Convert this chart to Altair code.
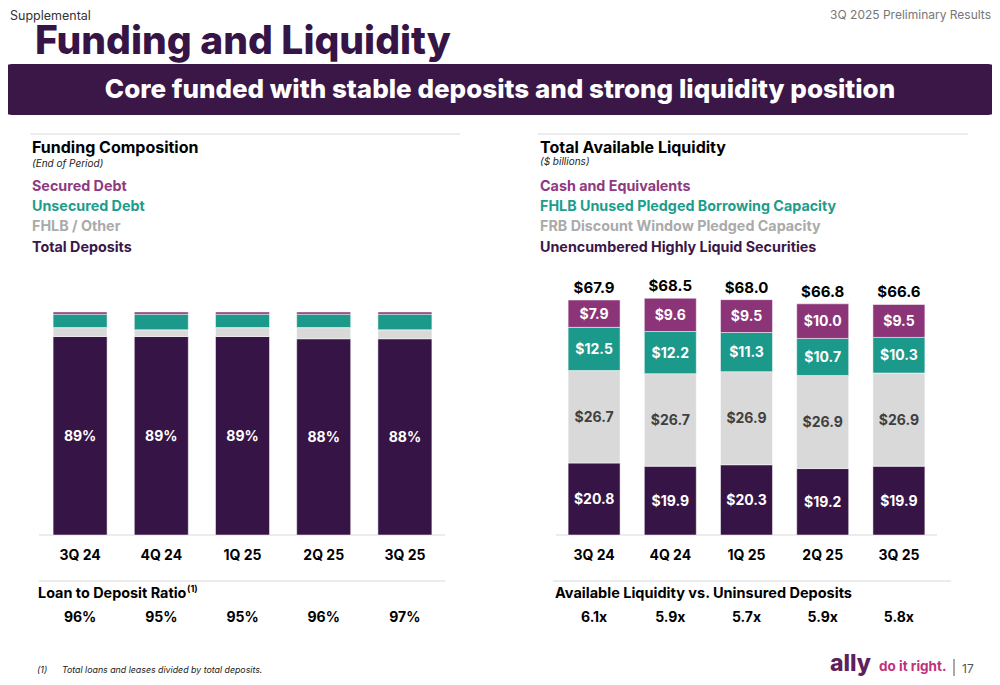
import altair as alt
import pandas as pd

quarters = ["3Q 24", "4Q 24", "1Q 25", "2Q 25", "3Q 25"]

# Funding composition, % of total funding (end of period)
fund_series = ["Total Deposits", "FHLB / Other", "Unsecured Debt", "Secured Debt"]
deposits = [89, 89, 89, 88, 88]
fhlb_other = [4, 3, 4, 5, 4]
unsecured = [6, 7, 6, 6, 7]
secured = [1, 1, 1, 1, 1]
loan_to_deposit = ["96%", "95%", "95%", "96%", "97%"]

# Total available liquidity ($ billions)
liq_series = ["Unencumbered Highly Liquid Securities", "FRB Discount Window Pledged Capacity",
              "FHLB Unused Pledged Borrowing Capacity", "Cash and Equivalents"]
securities = [20.8, 19.9, 20.3, 19.2, 19.9]
frb = [26.7, 26.7, 26.9, 26.9, 26.9]
fhlb_unused = [12.5, 12.2, 11.3, 10.7, 10.3]
cash = [7.9, 9.6, 9.5, 10.0, 9.5]
totals = [67.9, 68.5, 68.0, 66.8, 66.6]
liq_vs_uninsured = ["6.1x", "5.9x", "5.7x", "5.9x", "5.8x"]

DARK = "#371446"
PLUM = "#8C3478"
TEAL = "#1B998B"
GRAY = "#D9D9D9"
FONT = "Inter"
OFF = 8  # page margin


def stack(series_vals, names, fmt):
    rows = []
    for i, q in enumerate(quarters):
        base = 0.0
        for name, vals in zip(names, series_vals):
            v = vals[i]
            rows.append(dict(q=q, series=name, v0=base, v1=base + v, mid=base + v / 2,
                             lab=fmt(v), light=(name == "FRB Discount Window Pledged Capacity")))
            base += v
    return pd.DataFrame(rows)


fund_df = stack([deposits, fhlb_other, unsecured, secured], fund_series, lambda v: f"{v:.0f}%")
liq_df = stack([securities, frb, fhlb_unused, cash], liq_series, lambda v: f"${v:.1f}")
liq_tot = pd.DataFrame({"q": quarters, "tot": totals, "lab": [f"${t:.1f}" for t in totals],
                        "ratio": liq_vs_uninsured})
fund_tot = pd.DataFrame({"q": quarters, "ratio": loan_to_deposit})

color_scale = alt.Scale(domain=fund_series + liq_series,
                        range=[DARK, GRAY, TEAL, PLUM, DARK, GRAY, TEAL, PLUM])


def X(v):
    return v - OFF


def Y(v):
    return v - OFF


left_x = alt.Scale(domain=quarters, range=[X(39.5), X(445.5)], paddingInner=0.335, paddingOuter=0.1675)
left_y = alt.Scale(domain=[0, 100], range=[Y(535), Y(312)], nice=False, zero=True)
right_x = alt.Scale(domain=quarters, range=[X(556), X(937)], paddingInner=0.318, paddingOuter=0.159)
right_y = alt.Scale(domain=[0, 67.9], range=[Y(535), Y(300)], nice=False, zero=True)


def text(t, x, y, size, color="#000000", weight="bold", align="left", style="normal", font=FONT):
    return alt.Chart(alt.Data(values=[{}])).mark_text(
        text=t, align=align, baseline="alphabetic", fontSize=size, fontWeight=weight,
        color=color, font=font, fontStyle=style
    ).encode(x=alt.value(X(x)), y=alt.value(Y(y)))


def hline(x1, x2, y, color="#E6E6E6", w=1.5):
    return alt.Chart(alt.Data(values=[{}])).mark_rule(color=color, strokeWidth=w).encode(
        x=alt.value(X(x1)), x2=alt.value(X(x2)), y=alt.value(Y(y)))


layers = []

# header
layers.append(text("Supplemental", 10, 20, 12.5, color="#333333", weight="normal"))
layers.append(text("3Q 2025 Preliminary Results", 991, 19, 12, color="#777777", weight="normal", align="right"))
layers.append(text("Funding and Liquidity", 35, 54, 39, color=DARK, weight=800))
layers.append(alt.Chart(alt.Data(values=[{}])).mark_rect(color="#3B1748", cornerRadius=12).encode(
    x=alt.value(X(0)), x2=alt.value(X(1000)), y=alt.value(Y(64)), y2=alt.value(Y(115))))
layers.append(text("Core funded with stable deposits and strong liquidity position", 500, 98, 26,
                   color="#FFFFFF", weight=800, align="center"))

# separators
layers += [hline(30, 460, 134), hline(538, 968, 134), hline(39, 445, 581), hline(553, 951, 581),
           hline(39, 445, 535), hline(556, 937, 535)]

# left headings / legend
layers.append(text("Funding Composition", 32, 153, 16))
layers.append(text("(End of Period)", 32, 167, 10, color="#222222", weight="normal", style="italic"))
for lab, col, yy in zip(["Secured Debt", "Unsecured Debt", "FHLB / Other", "Total Deposits"],
                        ["#8E3A80", "#1E9C8C", "#AAAAAA", "#3B1748"], [191, 211, 231, 252]):
    layers.append(text(lab, 32, yy, 14.3, color=col))

# right headings / legend
layers.append(text("Total Available Liquidity", 540, 153, 16))
layers.append(text("($ billions)", 540, 165, 10, color="#222222", weight="normal", style="italic"))
for lab, col, yy in zip(["Cash and Equivalents", "FHLB Unused Pledged Borrowing Capacity",
                         "FRB Discount Window Pledged Capacity", "Unencumbered Highly Liquid Securities"],
                        ["#8E3A80", "#1E9C8C", "#AAAAAA", "#3B1748"], [191, 211, 231, 252]):
    layers.append(text(lab, 540, yy, 14.3, color=col))

# left bars
layers.append(alt.Chart(fund_df).mark_bar(stroke="white", strokeWidth=0.5).encode(
    x=alt.X("q:N", scale=left_x, axis=None),
    y=alt.Y("v0:Q", scale=left_y, axis=None), y2="v1:Q",
    color=alt.Color("series:N", scale=color_scale, legend=None)))
layers.append(alt.Chart(fund_df).transform_filter("datum.series == 'Total Deposits'").mark_text(
    baseline="middle", fontSize=14, fontWeight="bold", font=FONT, color="white", dy=1).encode(
    x=alt.X("q:N", scale=left_x, axis=None),
    y=alt.Y("mid:Q", scale=left_y, axis=None), text="lab:N"))
layers.append(alt.Chart(fund_tot).mark_text(baseline="alphabetic", fontSize=14, fontWeight="bold",
                                            font=FONT, color="black").encode(
    x=alt.X("q:N", scale=left_x, axis=None), y=alt.value(Y(560)), text="q:N"))
layers.append(text("Loan to Deposit Ratio", 38, 598, 14.4))
layers.append(text("(1)", 187, 592, 9))
layers.append(alt.Chart(fund_tot).mark_text(baseline="alphabetic", fontSize=14, fontWeight="bold",
                                            font=FONT, color="black").encode(
    x=alt.X("q:N", scale=left_x, axis=None), y=alt.value(Y(622)), text="ratio:N"))

# right bars
layers.append(alt.Chart(liq_df).mark_bar(stroke="white", strokeWidth=0.5).encode(
    x=alt.X("q:N", scale=right_x, axis=None),
    y=alt.Y("v0:Q", scale=right_y, axis=None), y2="v1:Q",
    color=alt.Color("series:N", scale=color_scale, legend=None)))
layers.append(alt.Chart(liq_df).mark_text(
    baseline="middle", fontSize=14, fontWeight="bold", font=FONT, dy=1).encode(
    x=alt.X("q:N", scale=right_x, axis=None),
    y=alt.Y("mid:Q", scale=right_y, axis=None), text="lab:N",
    color=alt.condition("datum.light", alt.value("#404040"), alt.value("white"))))
layers.append(alt.Chart(liq_tot).mark_text(baseline="alphabetic", fontSize=15, fontWeight="bold",
                                           font=FONT, color="black", dy=-7).encode(
    x=alt.X("q:N", scale=right_x, axis=None),
    y=alt.Y("tot:Q", scale=right_y, axis=None), text="lab:N"))
layers.append(alt.Chart(liq_tot).mark_text(baseline="alphabetic", fontSize=14, fontWeight="bold",
                                           font=FONT, color="black").encode(
    x=alt.X("q:N", scale=right_x, axis=None), y=alt.value(Y(560)), text="q:N"))
layers.append(text("Available Liquidity vs. Uninsured Deposits", 555, 598, 14.5))
layers.append(alt.Chart(liq_tot).mark_text(baseline="alphabetic", fontSize=14, fontWeight="bold",
                                           font=FONT, color="black").encode(
    x=alt.X("q:N", scale=right_x, axis=None), y=alt.value(Y(622)), text="ratio:N"))

# footer
layers.append(text("(1)", 37, 673, 9, color="#222222", weight="normal", style="italic"))
layers.append(text("Total loans and leases divided by total deposits.", 62, 673, 8.8, color="#222222",
                   weight="normal", style="italic"))
layers.append(text("ally", 830, 671, 23, color="#5E1F5F", weight=800))
layers.append(text("do it right.", 879, 671, 13.5, color="#C0307A", weight="bold"))
layers.append(alt.Chart(alt.Data(values=[{}])).mark_rule(color="#555555", strokeWidth=1).encode(
    x=alt.value(X(954)), y=alt.value(Y(659)), y2=alt.value(Y(676))))
layers.append(text("17", 962, 673, 12, color="#555555", weight="normal"))

chart = alt.layer(*layers).resolve_scale(x="independent", y="independent").properties(
    width=984, height=669, padding=0, autosize="none"
).configure_view(stroke=None)

chart.save("out.html", embed_options={"renderer": "svg", "actions": False})
